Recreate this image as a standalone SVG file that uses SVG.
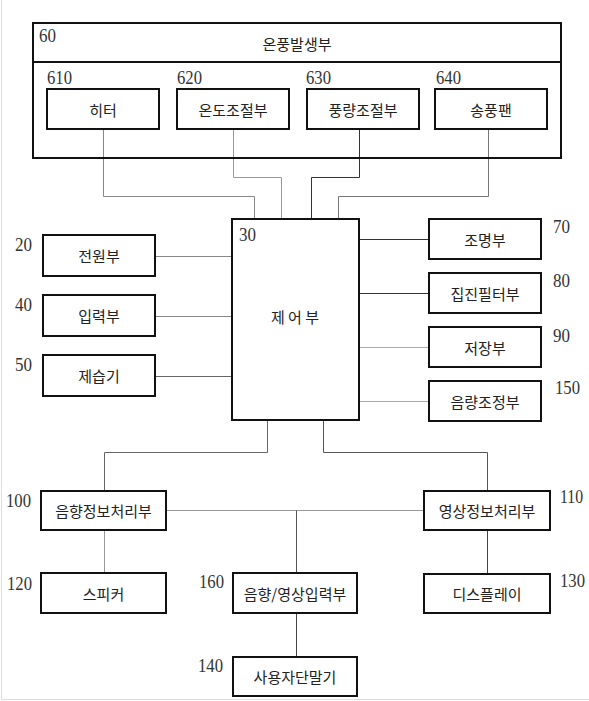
<svg xmlns="http://www.w3.org/2000/svg" width="589" height="701" viewBox="0 0 589 701">
<style>
.box{fill:#fff;stroke:#111;stroke-width:2}
.kr{font-family:"Noto Sans CJK KR","Noto Sans",sans-serif;font-size:15px;fill:#222;text-anchor:middle;dominant-baseline:central;font-weight:400}
.num{font-family:"Liberation Serif","Times New Roman",serif;font-size:18px;fill:#333}
.c{fill:none;stroke-width:1}
</style>
<rect x="0" y="0" width="589" height="701" fill="#fff"/>
<path d="M1.5 0V699.5H589" fill="none" stroke="#ddd" stroke-width="1"/>
<g id="connectors" transform="translate(0.5,0.5)">
<path class="c" stroke="#888" d="M103 129V196H254V219"/>
<path class="c" stroke="#999" d="M233 129V177H281V219"/>
<path class="c" stroke="#333" d="M359 129V177H311V219"/>
<path class="c" stroke="#777" d="M488 129V196H338V219"/>
<path class="c" stroke="#888" d="M155 256H232"/>
<path class="c" stroke="#888" d="M155 316H232"/>
<path class="c" stroke="#666" d="M155 376H232"/>
<path class="c" stroke="#333" d="M359 239H429"/>
<path class="c" stroke="#333" d="M359 293H429"/>
<path class="c" stroke="#aaa" d="M359 347H429"/>
<path class="c" stroke="#aaa" d="M359 401H429"/>
<path class="c" stroke="#666" d="M267 420V452H104V491"/>
<path class="c" stroke="#555" d="M323 420V452H487V491"/>
<path class="c" stroke="#999" d="M166 510H424"/>
<path class="c" stroke="#555" d="M296 510V573"/>
<path class="c" stroke="#999" d="M104 530V573"/>
<path class="c" stroke="#444" d="M487 530V574"/>
<path class="c" stroke="#444" d="M296 613V657"/>
</g>
<g id="n60">
<rect x="33" y="23" width="528" height="135" fill="none" stroke="#111" stroke-width="2"/>
<line x1="33" y1="62" x2="561" y2="62" stroke="#111" stroke-width="2"/>
<text class="num" x="39" y="42" textLength="17" lengthAdjust="spacingAndGlyphs">60</text>
<text class="kr" x="297" y="43">온풍발생부</text>
</g>
<g id="n610">
<rect class="box" x="47" y="89" width="112" height="40"/>
<text class="num" x="47" y="84" textLength="25" lengthAdjust="spacingAndGlyphs">610</text>
<text class="kr" x="103" y="109">히터</text>
</g>
<g id="n620">
<rect class="box" x="177" y="89" width="112" height="40"/>
<text class="num" x="177" y="84" textLength="25" lengthAdjust="spacingAndGlyphs">620</text>
<text class="kr" x="233" y="109">온도조절부</text>
</g>
<g id="n630">
<rect class="box" x="307" y="89" width="112" height="40"/>
<text class="num" x="306" y="84" textLength="25" lengthAdjust="spacingAndGlyphs">630</text>
<text class="kr" x="363" y="109">풍량조절부</text>
</g>
<g id="n640">
<rect class="box" x="435" y="89" width="112" height="40"/>
<text class="num" x="436" y="84" textLength="25" lengthAdjust="spacingAndGlyphs">640</text>
<text class="kr" x="491" y="109">송풍팬</text>
</g>
<g id="n30">
<rect class="box" x="232" y="219" width="127" height="201"/>
<text class="num" x="239" y="241" textLength="17" lengthAdjust="spacingAndGlyphs">30</text>
<text class="kr" x="295" y="316" xml:space="preserve">제 어 부</text>
</g>
<g id="n20">
<rect class="box" x="43" y="235" width="112" height="41"/>
<text class="num" x="15" y="251" textLength="17" lengthAdjust="spacingAndGlyphs">20</text>
<text class="kr" x="99" y="255.5">전원부</text>
</g>
<g id="n40">
<rect class="box" x="43" y="295" width="112" height="41"/>
<text class="num" x="15" y="311" textLength="17" lengthAdjust="spacingAndGlyphs">40</text>
<text class="kr" x="99" y="315.5">입력부</text>
</g>
<g id="n50">
<rect class="box" x="43" y="355" width="112" height="41"/>
<text class="num" x="15" y="371" textLength="17" lengthAdjust="spacingAndGlyphs">50</text>
<text class="kr" x="99" y="375.5">제습기</text>
</g>
<g id="n70">
<rect class="box" x="429" y="219" width="112" height="40"/>
<text class="num" x="553" y="233" textLength="17" lengthAdjust="spacingAndGlyphs">70</text>
<text class="kr" x="485" y="239">조명부</text>
</g>
<g id="n80">
<rect class="box" x="429" y="273" width="112" height="40"/>
<text class="num" x="553" y="287" textLength="17" lengthAdjust="spacingAndGlyphs">80</text>
<text class="kr" x="485" y="293">집진필터부</text>
</g>
<g id="n90">
<rect class="box" x="429" y="327" width="112" height="40"/>
<text class="num" x="553" y="342" textLength="17" lengthAdjust="spacingAndGlyphs">90</text>
<text class="kr" x="485" y="347">저장부</text>
</g>
<g id="n150">
<rect class="box" x="429" y="381" width="112" height="40"/>
<text class="num" x="555" y="394" textLength="25" lengthAdjust="spacingAndGlyphs">150</text>
<text class="kr" x="485" y="401">음량조정부</text>
</g>
<g id="n100">
<rect class="box" x="41" y="491" width="125" height="39"/>
<text class="num" x="6" y="507" textLength="25" lengthAdjust="spacingAndGlyphs">100</text>
<text class="kr" x="103.5" y="510.5">음향정보처리부</text>
</g>
<g id="n110">
<rect class="box" x="424" y="491" width="126" height="39"/>
<text class="num" x="560" y="503" textLength="23" lengthAdjust="spacingAndGlyphs">110</text>
<text class="kr" x="487" y="510.5">영상정보처리부</text>
</g>
<g id="n120">
<rect class="box" x="41" y="573" width="125" height="40"/>
<text class="num" x="7" y="590" textLength="25" lengthAdjust="spacingAndGlyphs">120</text>
<text class="kr" x="103.5" y="593">스피커</text>
</g>
<g id="n130">
<rect class="box" x="424" y="574" width="126" height="39"/>
<text class="num" x="560" y="587" textLength="25" lengthAdjust="spacingAndGlyphs">130</text>
<text class="kr" x="487" y="593.5">디스플레이</text>
</g>
<g id="n160">
<rect class="box" x="233" y="573" width="124" height="40"/>
<text class="num" x="199" y="588" textLength="25" lengthAdjust="spacingAndGlyphs">160</text>
<text class="kr" x="295" y="593">음향/영상입력부</text>
</g>
<g id="n140">
<rect class="box" x="233" y="657" width="124" height="39"/>
<text class="num" x="198" y="672" textLength="25" lengthAdjust="spacingAndGlyphs">140</text>
<text class="kr" x="295" y="676.5">사용자단말기</text>
</g>
</svg>
